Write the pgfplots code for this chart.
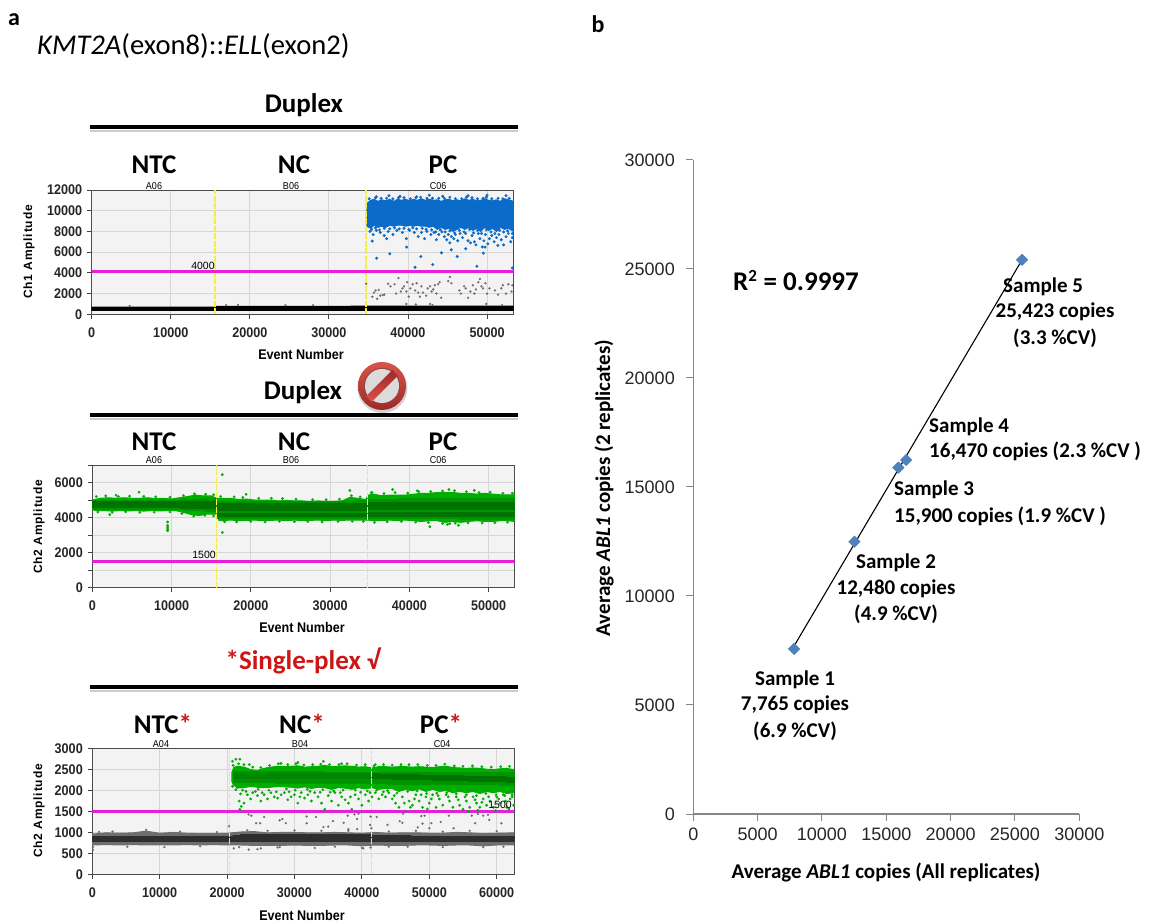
\documentclass[border=0pt]{standalone}
\usepackage{pgfplots}
\usepackage{fontspec}
\pgfplotsset{compat=1.18}
\setmainfont{Liberation Sans}
\newfontfamily\cb{Carlito}
\newfontfamily\tk[FakeStretch=0.9]{Liberation Sans}
\newfontfamily\lab[LetterSpace=7]{Liberation Sans}
\definecolor{bgp}{HTML}{F3F3F3}
\definecolor{gridp}{HTML}{D6D6D6}
\definecolor{mag}{HTML}{E81FD8}
\definecolor{yel}{HTML}{F5F040}
\definecolor{bluep}{HTML}{0A6CC8}
\definecolor{gr1}{HTML}{00AE00}
\definecolor{gr2}{HTML}{009400}
\definecolor{gr3}{HTML}{007200}
\definecolor{gy1}{HTML}{6E6E6E}
\definecolor{gy2}{HTML}{2E2E2E}
\definecolor{rd}{HTML}{CC1616}
\definecolor{axg}{HTML}{868686}
\definecolor{dia}{HTML}{4F81BD}
\newcommand{\fs}[1]{\fontsize{#1}{#1}\selectfont}
\pgfplotsset{
  dd/.style={
    scale only axis, axis background/.style={fill=bgp},
    grid=major, grid style={gridp,line width=0.9pt},
    tick align=outside, xtick pos=bottom, ytick pos=left,
    major tick length=4.5pt, tick style={black!75,line width=0.8pt},
    axis line style={black!70,line width=0.9pt},
    /pgf/number format/assume math mode=true,
    /pgf/number format/1000 sep={},
    scaled ticks=false,
    ticklabel style={font=\tk\fs{14}\bfseries, text=black!85},
    yticklabel style={xshift=-1.5pt},
    xticklabel style={yshift=-5pt},
    ymin=0,
  },
  band/.style={fill=#1,draw=#1,line width=1.0pt,line join=round},
  bdots/.style={only marks,mark=*,mark size=1.35pt,color=bluep,mark options={draw=bluep,fill=bluep,line width=0.3pt}},
  gdots/.style={only marks,mark=*,mark size=1.25pt,color=gr1,mark options={draw=gr1,fill=gr1,line width=0.3pt}},
  ydots/.style={only marks,mark=*,mark size=1.0pt,color=gy1,mark options={draw=gy1,fill=gy1,line width=0.3pt}},
  mline/.style={draw=mag,line width=2.7pt},
  yline/.style={draw=yel,line width=1.3pt,dash pattern=on 6pt off 1.5pt},
}
\begin{document}
\begin{tikzpicture}
\path[use as bounding box] (0,0) rectangle (1155pt,923pt);

% ---------- Panel a1
\begin{axis}[dd, at={(91.7pt,608.7pt)}, anchor=south west, width=421.8pt, height=124.3pt,
  xmin=0, xmax=53350, ymax=12000, xtick={0,10000,...,50000}, ytick={0,2000,...,12000}]
\addplot[band=black] coordinates {(0,380) (53350,380) (53350,780) (51000,790) (45000,800) (35000,790) (30000,760) (20000,770) (15800,760) (15600,700) (0,700)} -- cycle;
\addplot[band=bluep] coordinates {(34800,10700) (35300,11000) (35700,11100) (36200,10900) (36700,11050) (37200,10950) (37700,11100) (38200,10900) (38700,11100) (39200,11000) (39700,11100) (40200,10950) (40700,11100) (41200,11000) (41700,11150) (42200,11000) (42700,11100) (43200,11000) (43700,11050) (44200,10900) (44700,11050) (45200,11100) (45700,10950) (46200,11050) (46700,10950) (47200,11150) (47700,11000) (48200,11100) (48700,10950) (49200,11000) (49700,11150) (50200,11000) (50700,10950) (51200,11050) (51700,10900) (52200,11150) (52700,11050) (53350,10900)
 (53350,8000) (52700,8300) (52200,8200) (51700,8400) (51200,8000) (50700,8300) (50200,8100) (49700,8400) (49200,8000) (48700,8300) (48200,8100) (47700,8400) (47200,8200) (46700,8400) (46200,8200) (45700,8000) (45200,8300) (44700,8200) (44200,8400) (43700,8200) (43200,8500) (42700,8400) (42200,8500) (41700,8500) (41200,8600) (40700,8500) (40200,8600) (39700,8500) (39200,8600) (38700,8600) (38200,8500) (37700,8600) (37200,8400) (36700,8500) (36200,8400) (35700,8600) (35300,8300) (34800,8500)} -- cycle;
\addplot[bdots] coordinates {(35480,7070) (36040,5416) (37700,5837) (39840,6486) (40900,4540) (41630,5578) (43130,4800) (44240,5935) (45480,6226) (46240,5578) (47310,6324) (48720,4637) (49530,5902) (53200,4475) (51370,6648) (49750,6486)
(35200,8000) (35600,7700) (36000,8100) (36500,7900) (37000,7600) (37300,7300) (37500,8000) (38100,7700) (38600,8100) (39300,7900) (39800,7300) (40200,8100) (40800,7900) (41300,7500) (41700,7900) (42100,7300) (42400,8000) (42900,7700) (43300,7900) (43600,7200) (43900,7700) (44300,7950) (44600,7500) (44900,7200) (45100,7700) (45300,6900) (45500,7500) (45800,7300) (46000,7700) (46300,7100) (46600,7800) (46900,7400) (47300,7800) (47600,7100) (47900,6900) (48100,7600) (48400,7000) (48600,6700) (48900,7800) (49100,7300) (49400,6500) (49600,7100) (49800,7700) (50100,6800) (50300,7300) (50600,7600) (50900,7000) (51200,7400) (51500,7700) (51800,7200) (52100,6700) (52400,7500) (52700,7800) (53000,7000) (53200,7400)
(35400,8200) (35900,8350) (36400,8150) (37000,8300) (37700,8250) (38300,8350) (38900,8250) (39500,8300) (40100,8200) (40600,8350) (41100,8250) (41800,8300) (42300,8200) (43000,8150) (43500,7950) (44100,8150) (44700,7950) (45300,8050) (45900,7850) (46500,8100) (47100,7950) (47800,8200) (48300,7850) (48800,8100) (49300,7800) (49900,8150) (50500,7950) (51000,7800) (51600,8100) (52100,7950) (52600,8050) (53200,7800)
(36000,11350) (37600,11450) (39000,11400) (41100,11350) (42700,11500) (44400,11400) (47600,11450) (50000,11500) (52400,11450)
(35100,11150) (35900,11250) (36600,11200) (37300,11200) (38100,11150) (38800,11250) (39500,11250) (40300,11150) (41000,11250) (41600,11300) (42400,11200) (43100,11200) (43900,11200) (44600,11200) (45300,11300) (46000,11150) (46800,11150) (47400,11300) (48100,11250) (48800,11150) (49500,11200) (49900,11300) (50600,11150) (51400,11200) (52000,11150) (52800,11200)};
\addplot[ydots] coordinates {(34700,2950) (35500,1700) (35700,2100) (35900,2300) (36100,1500) (36300,2350) (36500,1800) (36800,1850) (37000,1900) (37500,2950) (37800,2700) (38300,2900) (38500,2000) (38800,3500) (39100,2200) (39300,2500) (39500,2700) (39800,2200) (39900,3100) (40100,1700) (40300,2500) (40600,2900) (40900,2300) (41100,3000) (41300,2100) (41500,1700) (41700,2700) (41900,2100) (42300,1800) (42500,2500) (42800,2700) (43000,2200) (43200,2400) (43400,2800) (43600,2000) (43800,2900) (44000,3100) (44200,1600) (45100,3200) (45300,3600) (45500,3000) (46500,2300) (46700,2000) (47100,2700) (47300,2500) (47600,1600) (47900,2200) (48200,2800) (48400,2000) (48600,2400) (48900,3100) (49100,3400) (49300,2700) (49500,2500) (49800,3000) (50000,2000) (50300,2500) (51000,2300) (51400,1900) (51800,2500) (52000,2800) (52400,2000) (52700,2900) (53100,2200) (53200,2800)
(39800,1000) (41000,950) (42800,1000) (43100,880) (49900,1000) (51900,880) (17000,880) (18500,900) (24500,880) (28000,880) (4800,800)};
\addplot[yline] coordinates {(15600,0) (15600,12000)};
\addplot[yline] coordinates {(34700,0) (34700,12000)};
\addplot[mline] coordinates {(0,4100) (53350,4100)};
\end{axis}

% ---------- Panel a2
\begin{axis}[dd, at={(92.3pt,335.3pt)}, anchor=south west, width=422.4pt, height=122.7pt,
  xmin=0, xmax=53300, ymax=7000, xtick={0,10000,...,50000}, ytick={0,1000,...,7000},
  yticklabels={0,,2000,,4000,,6000,}]
\addplot[band=gr1] coordinates {(0,5000) (1000,5100) (2000,5130) (3000,5100) (4000,5130) (5000,5100) (6000,5100) (7000,5130) (8000,5080) (9000,5100) (10000,5060) (11000,5130) (12000,5200) (13000,5280) (14000,5240) (15000,5240) (15700,5100) (16500,5100) (17500,5090) (18500,5030) (19500,5050) (20500,5000) (21500,5000) (22500,5000) (23500,4950) (24500,4980) (25500,4950) (26500,4950) (27500,4900) (28500,4950) (29500,4900) (30500,4920) (31500,4950) (32500,5150) (33500,5100) (34500,5030) (34800,5280) (35500,5330) (36500,5250) (37500,5280) (38500,5280) (39500,5280) (40500,5330) (41500,5380) (42500,5380) (43500,5430) (44500,5420) (45500,5430) (46500,5380) (47500,5380) (48500,5340) (49500,5380) (50500,5340) (51500,5300) (52500,5290) (53300,5290)
(53300,3780) (52500,3820) (51500,3820) (50500,3780) (49500,3780) (48500,3820) (47500,3780) (46500,3730) (45500,3780) (44500,3730) (43500,3820) (42500,3820) (41500,3780) (40500,3820) (39500,3860) (38500,3820) (37500,3860) (36500,3820) (35500,3820) (34800,3860) (33500,3860) (32500,3860) (31500,3840) (30500,3860) (29500,3820) (28500,3860) (27500,3840) (26500,3820) (25500,3860) (24500,3820) (23500,3860) (22500,3840) (21500,3820) (20500,3860) (19500,3840) (18500,3820) (17500,3860) (16500,3830) (16000,3820) (15700,4200) (14500,4200) (13500,4120) (12500,4170) (11500,4300) (10500,4400) (9500,4400) (8500,4380) (7500,4400) (6500,4370) (5500,4400) (4500,4380) (3500,4400) (2500,4370) (1500,4400) (500,4400) (0,4450)} -- cycle;
\addplot[band=gr2,line width=0pt] coordinates {(0,4450) (11000,4450) (15600,4350) (15600,5100) (11000,5000) (0,5000)} -- cycle;
\addplot[band=gr2,line width=0pt] coordinates {(15800,3950) (34700,3950) (34700,4950) (15800,4900)} -- cycle;
\addplot[band=gr2,line width=0pt] coordinates {(34700,3950) (53300,3900) (53300,5100) (34700,5050)} -- cycle;
\addplot[band=gr3,line width=0pt] coordinates {(0,4550) (11000,4550) (15600,4500) (15600,4950) (11000,4900) (0,4900)} -- cycle;
\addplot[band=gr3,line width=0pt] coordinates {(15800,4420) (34600,4420) (34600,4780) (15800,4780)} -- cycle;
\addplot[band=gr3,line width=0pt] coordinates {(15800,4060) (34600,4060) (34600,4260) (15800,4260)} -- cycle;
\addplot[band=gr3,line width=0pt] coordinates {(34800,4450) (53300,4450) (53300,4850) (34800,4850)} -- cycle;
\addplot[band=gr3,line width=0pt] coordinates {(34800,4080) (53300,4050) (53300,4300) (34800,4300)} -- cycle;
\addplot[gdots] coordinates {(5900,5450) (2200,4170) (9500,3750) (9500,3550) (9500,3450) (9500,3350) (9500,3250) (16400,6450) (16400,3150) (19400,5330) (32500,5550) (35300,5420) (37900,5600) (42600,3480) (44800,3600) (45100,3650) (46200,3560) (48200,5550) (45000,5600) (3000,5270) (41000,5530)
(500,5200) (1700,5240) (3300,5200) (4700,5220) (6500,5210) (8000,5180) (9800,5170) (11500,5250) (12900,5350) (14300,5330) (15300,5300) (16200,5200) (17900,5180) (19000,5150) (21000,5100) (22600,5100) (24000,5080) (25700,5050) (27800,5020) (29500,5020) (31200,5050) (32700,5250) (33800,5180) (35200,5420) (36800,5370) (38200,5430) (39800,5400) (41200,5480) (42700,5480) (44200,5520) (45700,5540) (47200,5480) (48800,5430) (50200,5450) (51800,5380) (53000,5390)
(700,4320) (2500,4300) (4200,4330) (6000,4300) (7800,4310) (9800,4320) (11300,4230) (12800,4080) (14200,4130) (15300,4100) (16700,3760) (18200,3750) (20000,3780) (21800,3750) (23600,3790) (25500,3760) (27200,3770) (29000,3750) (31000,3780) (32800,3790) (34200,3780) (35600,3730) (37200,3760) (39000,3770) (40800,3740) (42400,3720) (44200,3660) (45800,3680) (47400,3700) (49200,3690) (50800,3700) (52400,3740)};
\addplot[yline] coordinates {(15700,0) (15700,7000)};
\addplot[yline] coordinates {(34700,0) (34700,7000)};
\addplot[mline] coordinates {(0,1500) (53300,1500)};
\end{axis}

% ---------- Panel a3
\begin{axis}[dd, at={(92.3pt,48.7pt)}, anchor=south west, width=421.7pt, height=125.6pt,
  xmin=0, xmax=62570, ymax=3000, xtick={0,10000,...,60000}, ytick={0,500,...,3000}]
\addplot[band=gy1] coordinates {(0,960) (2000,990) (4000,980) (6000,990) (8000,1030) (10000,980) (12000,1000) (14000,980) (16000,970) (18000,970) (20000,980) (22000,1010) (24000,1020) (26000,990) (28000,1000) (30000,1000) (32000,990) (34000,990) (36000,1000) (38000,990) (40000,980) (42000,1000) (44000,980) (46000,990) (48000,990) (50000,980) (52000,980) (54000,1000) (56000,990) (58000,970) (60000,980) (62570,990)
(62570,700) (60000,700) (58000,680) (56000,700) (54000,700) (52000,690) (50000,700) (48000,700) (46000,690) (44000,690) (42000,700) (40000,680) (38000,700) (36000,700) (34000,690) (32000,690) (30000,700) (28000,690) (26000,690) (24000,690) (22000,700) (20000,700) (18000,710) (16000,700) (14000,710) (12000,700) (10000,700) (8000,700) (6000,710) (4000,700) (2000,710) (0,700)} -- cycle;
\addplot[band=gy2,line width=0pt] coordinates {(0,780) (62570,780) (62570,900) (42000,920) (41000,950) (22000,940) (20000,900) (0,900)} -- cycle;
\addplot[band=gr1] coordinates {(20700,2430) (21000,2550) (21500,2580) (22500,2560) (23500,2500) (24500,2480) (25500,2530) (26500,2560) (27500,2580) (28500,2570) (29500,2580) (30500,2590) (31500,2560) (32500,2570) (33500,2580) (34500,2600) (35500,2570) (36500,2580) (37500,2590) (38500,2580) (39500,2560) (40500,2570) (41500,2540) (42500,2570) (43500,2570) (44500,2560) (45500,2570) (46500,2570) (47500,2560) (48500,2570) (49500,2560) (50500,2550) (51500,2570) (52500,2580) (53500,2550) (54500,2540) (55500,2530) (56500,2540) (57500,2530) (58500,2510) (59500,2500) (60500,2520) (61500,2530) (62570,2500)
(62570,1950) (61500,1930) (60500,1980) (59500,1950) (58500,1980) (57500,1930) (56500,1980) (55500,1950) (54500,1980) (53500,1950) (52500,2000) (51500,1980) (50500,2030) (49500,1980) (48500,2040) (47500,2000) (46500,2030) (45500,1980) (44500,2050) (43500,2050) (42500,2030) (41500,2070) (40500,2040) (39500,2070) (38500,2030) (37500,2060) (36500,2070) (35500,2030) (34500,2070) (33500,2080) (32500,2050) (31500,2090) (30500,2060) (29500,2080) (28500,2090) (27500,2100) (26500,2080) (25500,2070) (24500,2080) (23500,2100) (22500,2070) (21500,2060) (20900,2150) (20700,2220)} -- cycle;
\addplot[band=gr2,line width=0pt] coordinates {(21000,2190) (62570,2130) (62570,2420) (41400,2440) (21000,2450)} -- cycle;
\addplot[band=gr3,line width=0pt] coordinates {(41500,2290) (62570,2200) (62570,2320) (41500,2400)} -- cycle;
\addplot[band=gr2!60!gr3,line width=0pt] coordinates {(21000,2290) (41400,2290) (41400,2400) (21000,2400)} -- cycle;
\addplot[gdots] coordinates {(21300,2750) (21900,2750) (20800,2700) (23300,2620) (28000,2650) (34300,2700) (30500,2670) (37000,2640) (42000,2620) (22000,1920) (21800,1750) (22100,1620) (21900,1550) (22500,1700) (23000,1900) (23500,1800) (23800,1950) (24500,1880) (25000,1750) (25500,1900) (26000,1800) (26500,1950) (27000,1850) (27500,1820) (28000,1900) (28500,1950) (29000,1780) (29500,1850) (30000,1900) (30500,1700) (31000,1950) (31500,1820) (32000,1900) (32500,1750) (33000,1950) (33500,1850) (34000,1700) (34500,1550) (35000,1880) (35500,1750) (36000,1950) (36500,1650) (37000,1850) (37500,1780) (38000,1700) (38500,1550) (39000,1900) (39500,1800) (40000,1650) (40500,1900) (41000,1750) (41500,1850) (42000,1950) (42500,1800) (43000,1900) (43500,1850) (44000,1950) (44500,1800) (45000,1700) (45500,1600) (46000,1850) (46500,1500) (47000,1750) (47500,1650) (48000,1900) (48500,1750) (49000,1600) (49500,1850) (50000,1700) (50500,1900) (51000,1600) (51500,1800) (52000,1650) (52500,1900) (53000,1750) (53500,1600) (54000,1850) (54500,1650) (55000,1550) (55500,1750) (56000,1600) (56500,1850) (57000,1700) (57500,1600) (58000,1800) (58500,1650) (59000,1750) (59500,1600) (60000,1850) (60500,1700) (61000,1900) (61500,1600) (62000,1800) (62500,1650)
(22800,1980) (24200,1980) (25200,1950) (27300,1970) (29200,1970) (30800,1850) (32300,1980) (33800,1960) (35300,1960) (36800,1950) (38300,1850) (39800,1960) (41200,1950) (43200,1970) (44800,1880) (46300,1700) (47800,1800) (48800,1900) (50300,1800) (51300,1880) (52800,1850) (54300,1780) (55300,1850) (56800,1780) (57800,1720) (58800,1850) (60300,1800) (61300,1750) (62300,1850) (47200,1600) (49700,1560) (55800,1500) (57200,1530) (59800,1520) (61800,1560)
(20900,2600) (21700,2640) (22500,2620) (23800,2560) (25000,2550) (26300,2600) (27600,2640) (29000,2620) (30200,2640) (31400,2610) (32700,2620) (33900,2630) (35200,2620) (36600,2620) (37800,2640) (39200,2610) (40500,2620) (41800,2590) (43200,2620) (44500,2610) (45800,2620) (47000,2620) (48300,2620) (49700,2600) (51000,2600) (52300,2630) (53700,2590) (55000,2580) (56400,2590) (57800,2570) (59200,2560) (60600,2570) (61900,2580)
(20800,2100) (21300,2020) (22300,2010) (24600,2030) (26200,2010) (28800,2040) (30100,2010) (31900,2030) (34200,2020) (35800,1990) (37200,2010) (39000,2010) (40800,1990) (42200,2010) (43800,2000) (45200,1940) (46800,1980) (48200,1990) (49600,1930) (51100,1940) (52600,1950) (54000,1920) (55500,1900) (57000,1880) (58400,1930) (59900,1900) (61200,1880) (62300,1900)};
\addplot[ydots] coordinates {(23200,1430) (23600,1400) (24300,1220) (24900,1220) (25500,1370) (27800,1290) (28200,1320) (28700,1220) (31800,1380) (31800,1220) (33200,1370) (34300,1130) (35700,1270) (35000,1140) (37300,1230) (37900,1400) (38000,1080) (38900,1430) (39300,1320) (39500,1450) (39300,1080) (40000,1480) (41200,1180) (41300,1380) (41400,1100) (42200,1370) (43800,1180) (45600,1270) (46000,1230) (46100,1450) (48300,1120) (48800,1390) (49300,1400) (49000,1210) (50000,1100) (50300,1220) (51700,1250) (52900,1400) (53600,1100) (56300,1400) (56800,1220) (57200,1440) (58000,1400) (58700,1420) (58900,1300) (60700,1220)
(100,650) (100,580) (21000,620) (21800,650) (23200,590) (24500,600) (25000,620) (27500,640) (27800,650) (33000,630) (40000,630) (40200,620) (41300,640) (46800,660) (20300,1150)
(1000,1010) (3000,1020) (5200,660) (8000,1060) (10700,650) (13000,1020) (16000,670) (18500,1010) (23000,1050) (26000,1040) (30000,1050) (34000,1040) (38000,1040) (44000,1020) (48000,1040) (52000,1020) (56000,1040) (60000,1030) (36000,660) (44000,660) (52000,650) (58000,650) (61000,660)};
\addplot[yline] coordinates {(20400,0) (20400,3000)};
\addplot[yline] coordinates {(41400,0) (41400,3000)};
\addplot[mline] coordinates {(0,1500) (62570,1500)};
\end{axis}

% ---------- Panel b
\begin{axis}[scale only axis, at={(693.3pt,109pt)}, anchor=south west, width=386pt, height=654pt,
  xmin=0,xmax=30000,ymin=0,ymax=30000,
  axis x line=bottom, axis y line=left, axis line style={-,axg,line width=1.1pt},
  xtick={0,5000,...,30000}, ytick={0,5000,...,30000},
  tick align=outside, major tick length=7pt, tick style={axg,line width=1pt},
  /pgf/number format/assume math mode=true, /pgf/number format/1000 sep={}, scaled ticks=false,
  ticklabel style={font=\fs{18}, text=black!85},
  xticklabel style={yshift=-3pt}, yticklabel style={xshift=-8pt},
  clip=false]
\addplot[black,line width=1.1pt] coordinates {(7775,7650) (25550,25420)};
\addplot[only marks,mark=square*,mark size=4.1pt,mark options={rotate=45,fill=dia,draw=dia},color=dia] coordinates {(7830,7570) (12520,12490) (15940,15890) (16540,16240) (25550,25420)};
\end{axis}

\begin{scope}[x=1pt,y=-1pt,yshift=923pt]
\def\rl#1{\fill[black!20] (90,#1+3) rectangle (518,#1+5);\fill[black] (90,#1-1.6) rectangle (518,#1+1.6);}
\rl{127}\rl{415}\rl{687}
\node[font=\cb\bfseries\fs{24}] at (14,20) {a};
\node[font=\cb\bfseries\fs{24}] at (598,24) {b};
\node[font=\cb\fs{28.6},anchor=west,inner sep=0] at (37,46) {\textit{KMT2A}(exon8)::\textit{ELL}(exon2)};
\node[font=\cb\bfseries\fs{27}] at (304,105) {Duplex};
\node[font=\cb\bfseries\fs{27}] at (303,392) {Duplex};
\node[font=\cb\bfseries\fs{27},text=rd] at (303,661) {*Single-plex √};
\foreach \yy/\yb/\ta/\tb/\tc in {165/186/A06/B06/C06, 442/460/A06/B06/C06}{
  \node[font=\cb\bfseries\fs{27}] at (154,\yy) {NTC};
  \node[font=\cb\bfseries\fs{27}] at (294,\yy) {NC};
  \node[font=\cb\bfseries\fs{27}] at (443,\yy) {PC};
  \node[font=\tk\fs{10}] at (154,\yb) {\ta};
  \node[font=\tk\fs{10}] at (291,\yb) {\tb};
  \node[font=\tk\fs{10}] at (438,\yb) {\tc};
}
\node[font=\cb\bfseries\fs{27}] at (163,724) {NTC\textcolor{rd}{*}};
\node[font=\cb\bfseries\fs{27}] at (302,724) {NC\textcolor{rd}{*}};
\node[font=\cb\bfseries\fs{27}] at (441,724) {PC\textcolor{rd}{*}};
\node[font=\tk\fs{10}] at (161,744) {A04};
\node[font=\tk\fs{10}] at (300,744) {B04};
\node[font=\tk\fs{10}] at (442,744) {C04};
\node[font=\fs{10.5}] at (203,266) {4000};
\node[font=\fs{10.5}] at (204,555) {1500};
\node[font=\fs{10.5}] at (500,805) {1500};
\node[font=\tk\bfseries\fs{14}] at (301,355) {Event Number};
\node[font=\tk\bfseries\fs{14}] at (302,627) {Event Number};
\node[font=\tk\bfseries\fs{14}] at (302,915) {Event Number};
\node[font=\lab\bfseries\fs{12},rotate=90] at (29,252) {Ch1 Amplitude};
\node[font=\lab\bfseries\fs{12},rotate=90] at (39,527) {Ch2 Amplitude};
\node[font=\lab\bfseries\fs{12},rotate=90] at (39,811) {Ch2 Amplitude};
% no-entry symbol
\definecolor{ringa}{HTML}{D9544C}
\definecolor{ringb}{HTML}{9C2A28}
\begin{scope}[shift={(382,386)}]
\fill[black!18] (0.5,2) circle (25);
\shade[top color=ringa,bottom color=ringb] (0,0) circle (24);
\fill[ringb!70!gray] (0,0) circle (18);
\fill[black!14] (0,0) circle (17);
\shade[rotate=45,top color=ringb,bottom color=ringa] (-18.5,-4) rectangle (18.5,4);
\end{scope}
% panel b text
\node[font=\cb\bfseries\fs{27},anchor=west,inner sep=0] at (733,281) {R\textsuperscript{\fs{17}2} = 0.9997};
\node[font=\cb\bfseries\fs{21},rotate=90] at (604,488) {Average \textit{ABL1} copies (2 replicates)};
\node[font=\cb\bfseries\fs{21}] at (886,872) {Average \textit{ABL1} copies (All replicates)};
\tikzset{smp/.style={font=\cb\bfseries\fs{21},inner sep=0}}
\node[smp,anchor=west] at (1003,287) {Sample 5};
\node[smp] at (1055,312) {25,423 copies};
\node[smp] at (1055,338) {(3.3 \%CV)};
\node[smp,anchor=west] at (929,427) {Sample 4};
\node[smp,anchor=west] at (929,451) {16,470 copies (2.3 \%CV )};
\node[smp,anchor=west] at (894,490) {Sample 3};
\node[smp,anchor=west] at (894,516) {15,900 copies (1.9 \%CV )};
\node[smp] at (896,563) {Sample 2};
\node[smp] at (896,589) {12,480 copies};
\node[smp] at (896,614) {(4.9 \%CV)};
\node[smp] at (795,680) {Sample 1};
\node[smp] at (795,705) {7,765 copies};
\node[smp] at (795,731) {(6.9 \%CV)};
\end{scope}
\end{tikzpicture}
\end{document}
